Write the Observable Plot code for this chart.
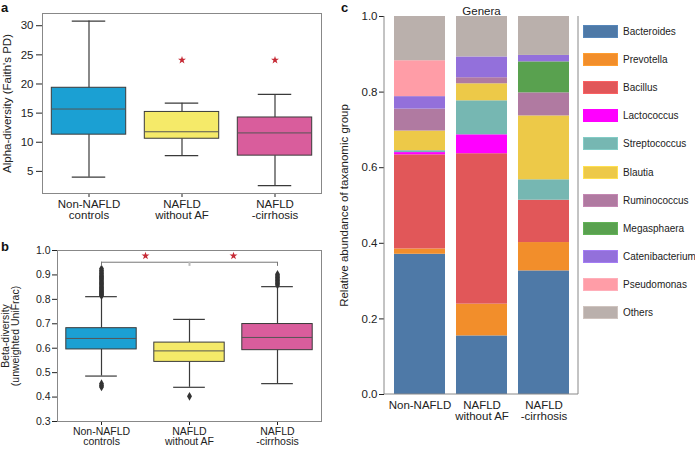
<!DOCTYPE html>
<html><head><meta charset="utf-8">
<script src="https://cdn.jsdelivr.net/npm/d3@7"></script>
<script src="https://cdn.jsdelivr.net/npm/@observablehq/plot@0.6"></script>
<style>
body{margin:0;background:#fff;font-family:"Liberation Sans",Arial,sans-serif;}
#fig{position:relative;width:695px;height:449px;overflow:hidden;background:#fff;}
.panel{position:absolute;}
.letter{position:absolute;font-weight:bold;font-size:13px;line-height:14px;color:#111;}
.sw{position:absolute;width:35px;height:13px;box-sizing:border-box;}
.lab{position:absolute;font-size:10px;line-height:13px;color:#222;white-space:nowrap;}
</style></head><body><div id="fig"></div>
<script>
// ---------- data ----------
const groupLines = ["Non-NAFLD\ncontrols", "NAFLD\nwithout AF", "NAFLD\n-cirrhosis"];
const boxColors = ["#1ba0d3", "#f5ea69", "#d95d9c"];

// panel a: alpha diversity (Faith's PD)
const alphaLow  = [4.0, 7.7, 2.55];
const alphaQ1   = [11.3, 10.6, 7.7];
const alphaMed  = [15.7, 11.8, 11.6];
const alphaQ3   = [19.35, 15.2, 14.25];
const alphaHigh = [30.8, 16.7, 18.2];
const alphaStarPos = [1, 2];
const alphaStarVal = [24.1, 24.1];
const alphaTicks = [5, 10, 15, 20, 25, 30];

// panel b: beta diversity (unweighted UniFrac)
const betaLow  = [0.486, 0.440, 0.455];
const betaQ1   = [0.595, 0.544, 0.592];
const betaMed  = [0.640, 0.589, 0.644];
const betaQ3   = [0.682, 0.623, 0.699];
const betaHigh = [0.811, 0.718, 0.852];
const betaOutGroup = [0,0,0,0,0,0,0,0,0,0,0,0,0,0,0,0,0,0,0,0,0,0,0,0,0,0, 1, 2,2,2,2,2,2,2,2];
const betaOutVal = [0.815,0.819,0.823,0.827,0.831,0.835,0.840,0.845,0.850,0.855,0.860,0.865,0.870,0.875,0.880,0.885,0.890,0.895,0.900,0.906,0.912,0.918,0.925,0.441,0.447,0.455,
                    0.403,
                    0.859,0.865,0.871,0.877,0.883,0.889,0.896,0.903];
const betaBracketFrom = 0, betaBracketTo = 2, betaBracketMid = 1;
const betaBracketTop = 0.952, betaBracketFoot = 0.935;
const betaStarPos = [0.5, 1.5];
const betaStarVal = [0.978, 0.978];
const betaTicks = [0.3, 0.4, 0.5, 0.6, 0.7, 0.8, 0.9, 1.0];

// panel c: relative abundance (genera)
const barGroups = ["Non-NAFLD", "NAFLD\nwithout AF", "NAFLD\n-cirrhosis"];
const genera = ["Bacteroides","Prevotella","Bacillus","Lactococcus","Streptococcus","Blautia","Ruminococcus","Megasphaera","Catenibacterium","Pseudomonas","Others"];
const genusColors = ["#4e79a7","#f28e2b","#e15759","#ff00ff","#76b7b2","#edc948","#b07aa1","#59a14f","#9370db","#ff9da7","#bab0ac"];
const Bacteroides     = [0.371, 0.155, 0.327];
const Prevotella      = [0.014, 0.084, 0.075];
const Bacillus        = [0.249, 0.398, 0.112];
const Lactococcus     = [0.006, 0.050, 0.000];
const Streptococcus   = [0.005, 0.090, 0.054];
const Blautia         = [0.052, 0.045, 0.169];
const Ruminococcus    = [0.058, 0.016, 0.061];
const Megasphaera     = [0.000, 0.000, 0.082];
const Catenibacterium = [0.033, 0.055, 0.017];
const Pseudomonas     = [0.095, 0.000, 0.000];
const Others          = [0.117, 0.107, 0.103];
const abundance = [Bacteroides,Prevotella,Bacillus,Lactococcus,Streptococcus,Blautia,Ruminococcus,Megasphaera,Catenibacterium,Pseudomonas,Others];
const abundanceTicks = [0, 0.2, 0.4, 0.6, 0.8, 1.0];

// ---------- build ----------
const fig = document.getElementById("fig");
const FONT = "Liberation Sans, Arial, sans-serif";
const boxEdge = "#3a3a3a";
const starColor = "#c62a35";

function boxRows(low, q1, med, q3, high) {
  return low.map((_, i) => ({i, low: low[i], q1: q1[i], med: med[i], q3: q3[i], high: high[i], color: boxColors[i]}));
}
function boxMarks(rows) {
  return [
    Plot.ruleX(rows, {x: "i", y1: "low", y2: "q1", stroke: boxEdge, strokeWidth: 1.2}),
    Plot.ruleX(rows, {x: "i", y1: "q3", y2: "high", stroke: boxEdge, strokeWidth: 1.2}),
    Plot.ruleY(rows, {y: "low", x1: d => d.i - 0.18, x2: d => d.i + 0.18, stroke: boxEdge, strokeWidth: 1.2}),
    Plot.ruleY(rows, {y: "high", x1: d => d.i - 0.18, x2: d => d.i + 0.18, stroke: boxEdge, strokeWidth: 1.2}),
    Plot.rect(rows, {x1: d => d.i - 0.4, x2: d => d.i + 0.4, y1: "q1", y2: "q3", fill: "color", stroke: boxEdge, strokeWidth: 1}),
    Plot.ruleY(rows, {y: "med", x1: d => d.i - 0.4, x2: d => d.i + 0.4, stroke: "#555", strokeWidth: 1})
  ];
}
function place(el, left, top) {
  const d = document.createElement("div");
  d.className = "panel"; d.style.left = left + "px"; d.style.top = top + "px";
  d.appendChild(el); fig.appendChild(d);
}

// panel a
const alphaRows = boxRows(alphaLow, alphaQ1, alphaMed, alphaQ3, alphaHigh);
const alphaStars = alphaStarPos.map((p, k) => ({x: p, y: alphaStarVal[k]}));
const plotA = Plot.plot({
  width: 330, height: 225, marginLeft: 42, marginRight: 9, marginTop: 13, marginBottom: 32,
  style: {fontFamily: FONT, fontSize: "11.5px", color: "#222", background: "transparent"},
  x: {type: "linear", domain: [-0.5, 2.5], ticks: [0, 1, 2], tickFormat: i => groupLines[i], tickSize: 4, tickPadding: 2, label: null},
  y: {domain: [1.2, 32.1], ticks: alphaTicks, tickSize: 6, tickPadding: 3, label: "Alpha-diversity (Faith's PD)", labelArrow: false, labelAnchor: "center", labelOffset: 40},
  color: {type: "identity"},
  marks: [
    Plot.frame({stroke: "#888"}),
    ...boxMarks(alphaRows),
    Plot.dot(alphaStars, {x: "x", y: "y", symbol: "star", r: 2.5, fill: starColor, stroke: "none"})
  ]
});
place(plotA, 0, 0);

// panel b
const betaRows = boxRows(betaLow, betaQ1, betaMed, betaQ3, betaHigh);
const betaOut = betaOutVal.map((v, k) => ({x: betaOutGroup[k], y: v}));
const bracket = [{x1: betaBracketFrom, x2: betaBracketTo, y: betaBracketTop}];
const feet = [{x: betaBracketFrom}, {x: betaBracketTo}];
const betaStars = betaStarPos.map((p, k) => ({x: p, y: betaStarVal[k]}));
const plotB = Plot.plot({
  width: 330, height: 214, marginLeft: 57, marginRight: 9, marginTop: 15, marginBottom: 28,
  style: {fontFamily: FONT, fontSize: "10.5px", color: "#222", background: "transparent"},
  x: {type: "linear", domain: [-0.5, 2.5], ticks: [0, 1, 2], tickFormat: i => groupLines[i], tickSize: 4, tickPadding: 2, label: null},
  y: {domain: [0.3, 1.0], ticks: betaTicks, tickFormat: d3.format(".1f"), tickSize: 5, tickPadding: 2, label: "Beta-diversity\n(unweighted UniFrac)", labelArrow: false, labelAnchor: "center", labelOffset: 56},
  color: {type: "identity"},
  marks: [
    Plot.frame({stroke: "#888"}),
    ...boxMarks(betaRows),
    Plot.dot(betaOut, {x: "x", y: "y", symbol: "diamond", r: 2.6, fill: "#333", stroke: "none"}),
    Plot.ruleY(bracket, {y: "y", x1: "x1", x2: "x2", stroke: "#777", strokeWidth: 1}),
    Plot.ruleX(feet, {x: "x", y1: betaBracketTop, y2: betaBracketFoot, stroke: "#777", strokeWidth: 1}),
    Plot.ruleX([{x: betaBracketMid}], {x: "x", y1: betaBracketTop, y2: betaBracketFoot, stroke: "#bbb", strokeWidth: 2}),
    Plot.dot(betaStars, {x: "x", y: "y", symbol: "star", r: 2.5, fill: starColor, stroke: "none"})
  ]
});
place(plotB, 0, 235);

// panel c
const stackRows = [];
genera.forEach((g, k) => barGroups.forEach((grp, j) => stackRows.push({group: grp, genus: g, value: abundance[k][j]})));
function frameLines(index, scales, values, dim) {
  const g = d3.create("svg:g").attr("stroke", "#888").attr("fill", "none");
  const l = dim.marginLeft, r = dim.width - dim.marginRight, t = dim.marginTop, b = dim.height - dim.marginBottom;
  g.append("line").attr("x1", l).attr("x2", l).attr("y1", t).attr("y2", b);
  g.append("line").attr("x1", r).attr("x2", r).attr("y1", t).attr("y2", b);
  g.append("line").attr("x1", l).attr("x2", r).attr("y1", b).attr("y2", b);
  return g.node();
}
const plotC = Plot.plot({
  width: 360, height: 449, marginLeft: 49, marginRight: 117, marginTop: 16, marginBottom: 55,
  style: {fontFamily: FONT, fontSize: "11.5px", color: "#222", background: "transparent"},
  x: {domain: barGroups, paddingInner: 0.18, paddingOuter: 0.13, tickSize: 0, tickPadding: 6, label: null},
  y: {domain: [0, 1], ticks: abundanceTicks, tickFormat: d3.format(".1f"), tickSize: 5, tickPadding: 2, label: "Relative abundance of taxanomic group", labelArrow: false, labelAnchor: "center", labelOffset: 45},
  color: {domain: genera, range: genusColors},
  marks: [
    Plot.barY(stackRows, {x: "group", y: "value", fill: "genus"}),
    frameLines,
    Plot.text(["Genera"], {frameAnchor: "top", dy: -10, text: d => d, fontSize: 11.5, fill: "#222"})
  ]
});
place(plotC, 335, 0);

// legend (HTML)
genera.forEach((g, k) => {
  const cy = 31.7 + k * 28.06;
  const s = document.createElement("div");
  s.className = "sw"; s.style.left = "583px"; s.style.top = (cy - 6.5) + "px";
  s.style.background = genusColors[k];
  s.style.border = "1px solid " + d3.color(genusColors[k]).brighter(0.3);
  fig.appendChild(s);
  const t = document.createElement("div");
  t.className = "lab"; t.style.left = "623px"; t.style.top = (cy - 6.5) + "px";
  t.textContent = g; fig.appendChild(t);
});

// panel letters
[["a", 1, 1], ["b", 1, 240], ["c", 341, 1]].forEach(([s, x, y]) => {
  const d = document.createElement("div");
  d.className = "letter"; d.style.left = x + "px"; d.style.top = y + "px"; d.textContent = s;
  fig.appendChild(d);
});
</script></body></html>
